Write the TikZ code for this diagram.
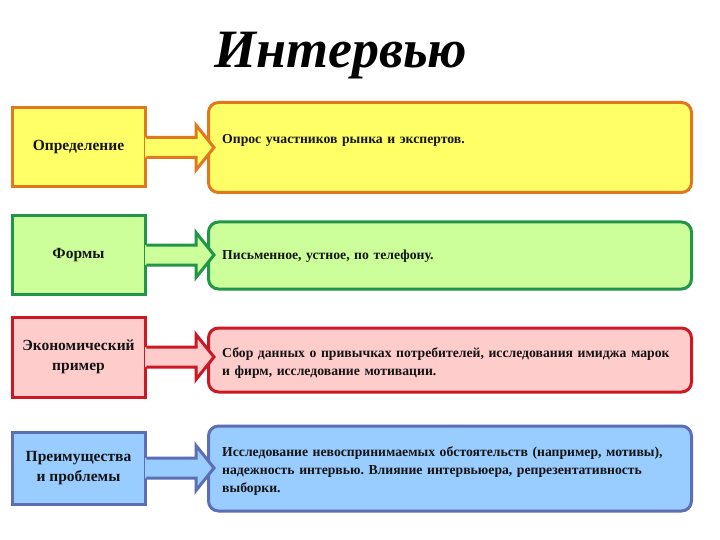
\documentclass[tikz,border=0pt]{standalone}
\usepackage{fontspec}
\setmainfont{Liberation Serif}
\usetikzlibrary{calc}
\frenchspacing
\definecolor{yfill}{RGB}{255,255,102}
\definecolor{ydraw}{RGB}{226,120,30}
\definecolor{gfill}{RGB}{204,255,153}
\definecolor{gdraw}{RGB}{34,150,72}
\definecolor{rfill}{RGB}{255,204,204}
\definecolor{rdraw}{RGB}{204,24,36}
\definecolor{bfill}{RGB}{153,204,255}
\definecolor{bdraw}{RGB}{92,110,180}
\definecolor{txt}{RGB}{20,20,20}
\newcommand\blockarr[4]{%
  \fill[#3] let \p1=(#1.east), \p2=(#2.west) in
    (\x1-1.5pt,\y1-10pt) -- (\x2-11pt,\y1-10pt) -- (\x2-11pt,\y1-22.5pt) -- (\x2+7pt,\y1)
    -- (\x2-11pt,\y1+22.5pt) -- (\x2-11pt,\y1+10pt) -- (\x1-1.5pt,\y1+10pt) -- cycle;
  \draw[#4,line width=3pt,line join=miter] let \p1=(#1.east), \p2=(#2.west) in
    (\x1-0.2pt,\y1-10pt) -- (\x2-11pt,\y1-10pt) -- (\x2-11pt,\y1-22.5pt) -- (\x2+7pt,\y1)
    -- (\x2-11pt,\y1+22.5pt) -- (\x2-11pt,\y1+10pt) -- (\x1-0.2pt,\y1+10pt);
}
\begin{document}
\begin{tikzpicture}[x=1pt,y=-1pt,
  leftbox/.style={draw,line width=3pt,minimum width=133pt,inner sep=0pt,align=center,
    text=txt,font=\fontsize{15.5}{20}\selectfont\bfseries},
  rightbox/.style={draw,line width=3pt,rounded corners=10pt,minimum width=483pt,inner sep=0pt},
  rtext/.style={anchor=west,inner sep=0pt,text width=465pt,align=left,text=txt,
    font=\fontsize{13.7}{18}\selectfont\bfseries}]
\useasboundingbox (0,0) rectangle (720,540);
\fill[white] (0,0) rectangle (720,540);
\node[anchor=base,inner sep=0pt] (title) at (341,68)
  {\fontsize{54}{60}\selectfont\bfseries\itshape Интервью};
% right boxes
\node[rightbox,fill=yfill,draw=ydraw,minimum height=90pt] (r1) at (450,147.5) {};
\node[rightbox,fill=gfill,draw=gdraw,minimum height=67pt] (r2) at (450,255.5) {};
\node[rightbox,fill=rfill,draw=rdraw,minimum height=64pt] (r3) at (450,360) {};
\node[rightbox,fill=bfill,draw=bdraw,minimum height=85pt] (r4) at (450,468.5) {};
% left boxes
\node[leftbox,fill=yfill,draw=ydraw,minimum height=79pt] (l1) at (78.5,147.5)
  {Определение};
\node[leftbox,fill=gfill,draw=gdraw,minimum height=78pt] (l2) at (78.5,255)
  {Формы};
\node[leftbox,fill=rfill,draw=rdraw,minimum height=80pt] (l3) at (78.5,357)
  {Экономический\\пример};
\node[leftbox,fill=bfill,draw=bdraw,minimum height=72pt] (l4) at (78.5,468)
  {Преимущества\\и проблемы};
% arrows
\blockarr{l1}{r1}{yfill}{ydraw}
\blockarr{l2}{r2}{gfill}{gdraw}
\blockarr{l3}{r3}{rfill}{rdraw}
\blockarr{l4}{r4}{bfill}{bdraw}
% texts
\node[rtext] (t1) at (222,140) {Опрос участников рынка и экспертов.};
\node[rtext] (t2) at (222,256) {Письменное, устное, по телефону.};
\node[rtext] (t3) at (222,363) {Сбор данных о привычках потребителей, исследования имиджа марок\\и фирм, исследование мотивации.};
\node[rtext] (t4) at (222,471) {Исследование невоспринимаемых обстоятельств (например, мотивы),\\надежность интервью. Влияние интервьюера, репрезентативность\\выборки.};
\end{tikzpicture}
\end{document}
